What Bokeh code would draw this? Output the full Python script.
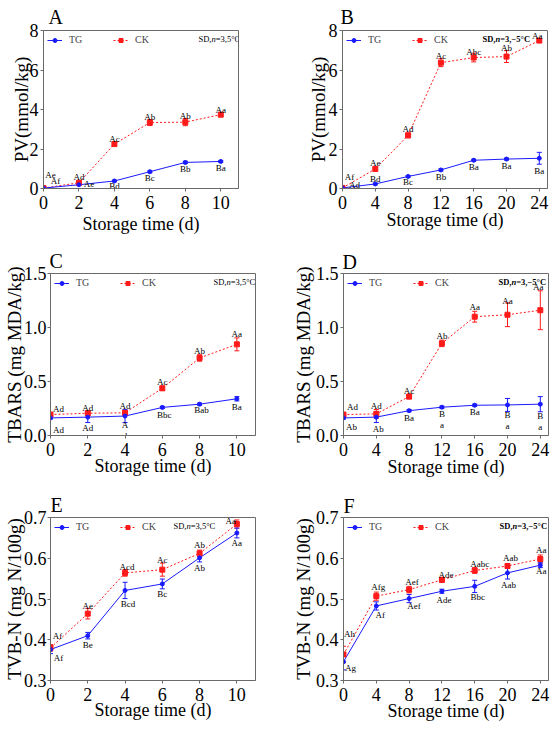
from bokeh.plotting import figure
from bokeh.layouts import column, row
from bokeh.models import (ColumnDataSource, Whisker, TeeHead, Label, Legend, LegendItem,
                          FixedTicker, Range1d, NumeralTickFormatter)
from bokeh.embed import file_html
from bokeh.resources import INLINE
from bokeh.core.properties import value

# ---------------- data ----------------
days_5 = [0, 2, 4, 6, 8, 10]
days_m5 = [0, 4, 8, 12, 16, 20, 24]

pv_5_tg = [0.02, 0.19, 0.38, 0.85, 1.32, 1.37]
pv_5_tg_sd = [0.02, 0.04, 0.04, 0.05, 0.06, 0.05]
pv_5_ck = [0.02, 0.29, 2.25, 3.34, 3.36, 3.74]
pv_5_ck_sd = [0.02, 0.08, 0.10, 0.15, 0.18, 0.10]
pv_5_tg_sig = ["Af", "Ae", "Bd", "Bc", "Bb", "Ba"]
pv_5_ck_sig = ["Ae", "Ad", "Ac", "Ab", "Ab", "Aa"]

pv_m5_tg = [0.03, 0.23, 0.61, 0.94, 1.43, 1.49, 1.53]
pv_m5_tg_sd = [0.02, 0.04, 0.05, 0.05, 0.05, 0.05, 0.30]
pv_m5_ck = [0.03, 0.99, 2.69, 6.37, 6.63, 6.68, 7.49]
pv_m5_ck_sd = [0.02, 0.08, 0.12, 0.20, 0.22, 0.30, 0.10]
pv_m5_tg_sig = ["Ad", "Bd", "Bc", "Bb", "Ba", "Ba", "Ba"]
pv_m5_ck_sig = ["Af", "Ae", "Ad", "Ac", "Abc", "Ab", "Aa"]

tbars_5_tg = [0.163, 0.170, 0.180, 0.260, 0.290, 0.340]
tbars_5_tg_sd = [0.01, 0.05, 0.06, 0.01, 0.01, 0.02]
tbars_5_ck = [0.194, 0.206, 0.210, 0.437, 0.718, 0.844]
tbars_5_ck_sd = [0.01, 0.02, 0.02, 0.02, 0.03, 0.06]
tbars_5_tg_sig = ["Ad", "Ad", "A\nd", "Bbc", "Bab", "Ba"]
tbars_5_ck_sig = ["Ad", "Ad", "Ad", "Ac", "Ab", "Aa"]

tbars_m5_tg = [0.163, 0.170, 0.230, 0.262, 0.280, 0.283, 0.290]
tbars_m5_tg_sd = [0.01, 0.05, 0.01, 0.01, 0.01, 0.06, 0.07]
tbars_m5_ck = [0.194, 0.200, 0.360, 0.853, 1.100, 1.118, 1.160]
tbars_m5_ck_sd = [0.01, 0.04, 0.02, 0.03, 0.05, 0.11, 0.18]
tbars_m5_tg_sig = ["Ab", "Ab", "Ba", "B\na", "Ba", "B\na", "B\na"]
tbars_m5_ck_sig = ["Ad", "Ad", "Ac", "Ab", "Aa", "Aa", "Aa"]

tvbn_5_tg = [0.376, 0.410, 0.521, 0.537, 0.601, 0.662]
tvbn_5_tg_sd = [0.010, 0.008, 0.020, 0.012, 0.010, 0.012]
tvbn_5_ck = [0.380, 0.464, 0.564, 0.572, 0.612, 0.684]
tvbn_5_ck_sd = [0.008, 0.013, 0.008, 0.016, 0.008, 0.010]
tvbn_5_tg_sig = ["Af", "Be", "Bcd", "Bc", "Ab", "Aa"]
tvbn_5_ck_sig = ["Af", "Ae", "Acd", "Ac", "Ab", "Aa"]

tvbn_m5_tg = [0.346, 0.483, 0.501, 0.519, 0.531, 0.564, 0.583]
tvbn_m5_tg_sd = [0.020, 0.010, 0.010, 0.005, 0.015, 0.015, 0.006]
tvbn_m5_ck = [0.364, 0.507, 0.523, 0.547, 0.570, 0.581, 0.598]
tvbn_m5_ck_sd = [0.020, 0.010, 0.008, 0.006, 0.007, 0.006, 0.010]
tvbn_m5_tg_sig = ["Ag", "Af", "Aef", "Ade", "Bbc", "Aab", "Aa"]
tvbn_m5_ck_sig = ["Ah", "Afg", "Aef", "Ade", "Aabc", "Aab", "Aa"]

ticks_5 = [0, 2, 4, 6, 8, 10]
ticks_m5 = [0, 4, 8, 12, 16, 20, 24]
pv_ticks = [0, 2, 4, 6, 8]
tbars_ticks = [0.0, 0.5, 1.0, 1.5]
tvbn_ticks = [0.3, 0.4, 0.5, 0.6, 0.7]

x_title = "Storage time (d)"
pv_title = "PV(mmol/kg)"
tbars_title = "TBARS (mg MDA/kg)"
tvbn_title = "TVB-N (mg N/100g)"
series_names = ["TG", "CK"]
sd_5 = ["SD,", "n", "=3,5°C"]
sd_m5 = ["SD,", "n", "=3,\u22125°C"]

# ---------------- style ----------------
FONT = "Liberation Serif"
BLUE = "#1a1aff"
RED = "#ff1a1a"
GRAY = "#6a6a6a"

W_REG = {"S": .556, "D": .722, ",": .25, "n": .5, "=": .564, "\u2212": .564, "°": .4, "C": .667}
W_BOLD = {"S": .556, "D": .722, ",": .25, "n": .556, "=": .570, "\u2212": .570, "°": .4, "C": .722}


def text_w(s, bold, size):
    tab = W_BOLD if bold else W_REG
    return sum(tab.get(c, .5) for c in s) * size


def make_panel(letter, days, tg, tg_sd, ck, ck_sd, tg_sig, ck_sig, sd_parts,
               width, height, bl, br, bt, bb, xend, yr, xticks, yticks, yfmt, ytitle,
               ylab_standoff, ytick_standoff, xlab_standoff, title_off, title_standoff,
               sd_start, sd_bold, tg_off, ck_off):
    p = figure(width=width, height=height, x_range=Range1d(0, xend), y_range=Range1d(*yr),
               output_backend="svg", toolbar_location=None,
               min_border_left=bl, min_border_right=br, min_border_top=bt, min_border_bottom=bb)
    p.grid.visible = False
    p.outline_line_color = GRAY
    p.outline_line_width = 1
    p.background_fill_color = "white"
    p.border_fill_color = "white"

    fh = height - bt - bb

    p.title.text = letter
    p.title.align = "left"
    p.title.offset = title_off
    p.title.standoff = title_standoff
    p.title.text_font = FONT
    p.title.text_font_size = "20px"
    p.title.text_font_style = "normal"
    p.title.text_color = "black"

    for ax in (p.xaxis[0], p.yaxis[0]):
        ax.axis_line_color = GRAY
        ax.major_tick_line_color = GRAY
        ax.major_tick_out = 3
        ax.major_tick_in = 0
        ax.minor_tick_line_color = None
        ax.major_label_text_font = FONT
        ax.major_label_text_font_size = "18px"
        ax.major_label_text_color = "black"
        ax.axis_label_text_font = FONT
        ax.axis_label_text_font_style = "normal"
        ax.axis_label_text_color = "black"
    p.xaxis[0].ticker = FixedTicker(ticks=xticks)
    p.yaxis[0].ticker = FixedTicker(ticks=yticks)
    p.yaxis[0].formatter = NumeralTickFormatter(format=yfmt)
    p.xaxis[0].axis_label = x_title
    p.xaxis[0].axis_label_text_font_size = "18px"
    p.xaxis[0].major_label_standoff = 4
    p.xaxis[0].axis_label_standoff = xlab_standoff
    p.yaxis[0].axis_label = ytitle
    p.yaxis[0].axis_label_text_font_size = "19px"
    p.yaxis[0].major_label_standoff = ytick_standoff
    p.yaxis[0].axis_label_standoff = ylab_standoff

    tg_src = ColumnDataSource(dict(x=days, y=tg, upper=[a + b for a, b in zip(tg, tg_sd)],
                                   lower=[a - b for a, b in zip(tg, tg_sd)], sig=tg_sig,
                                   dx=[o[0] for o in tg_off], dy=[o[1] for o in tg_off]))
    ck_src = ColumnDataSource(dict(x=days, y=ck, upper=[a + b for a, b in zip(ck, ck_sd)],
                                   lower=[a - b for a, b in zip(ck, ck_sd)], sig=ck_sig,
                                   dx=[o[0] for o in ck_off], dy=[o[1] for o in ck_off]))

    ck_line = p.line("x", "y", source=ck_src, line_color=RED, line_width=1, line_dash="2 2")
    tg_line = p.line("x", "y", source=tg_src, line_color=BLUE, line_width=1)
    for src, col in ((ck_src, RED), (tg_src, BLUE)):
        p.add_layout(Whisker(source=src, base="x", upper="upper", lower="lower",
                             line_color=col, line_width=1,
                             upper_head=TeeHead(size=5, line_color=col, line_width=1),
                             lower_head=TeeHead(size=5, line_color=col, line_width=1)))
    ck_pts = p.scatter("x", "y", source=ck_src, marker="square", size=5,
                       fill_color=RED, line_color=RED)
    tg_pts = p.scatter("x", "y", source=tg_src, marker="circle", size=4,
                       fill_color=BLUE, line_color=BLUE)

    for src in (ck_src, tg_src):
        p.text("x", "y", text="sig", source=src, x_offset="dx", y_offset="dy",
               text_font=value(FONT), text_font_size=value("9px"), text_color="black",
               text_align="center", text_baseline="middle", text_line_height=1.1)

    legend = Legend(items=[LegendItem(label=series_names[0], renderers=[tg_line, tg_pts]),
                           LegendItem(label=series_names[1], renderers=[ck_line, ck_pts])],
                    orientation="horizontal", location="top_left",
                    background_fill_alpha=0, border_line_alpha=0,
                    padding=1, margin=3, spacing=24, glyph_width=15, glyph_height=10,
                    label_height=10, label_standoff=7,
                    label_text_font=FONT, label_text_font_size="10px")
    p.add_layout(legend)

    # SD annotation (n in italics)
    size = 8.5
    xcur = sd_start
    styles = ["bold" if sd_bold else "normal",
              "bold italic" if sd_bold else "italic",
              "bold" if sd_bold else "normal"]
    for part, st in zip(sd_parts, styles):
        p.add_layout(Label(x=xcur, y=fh - 8, x_units="screen", y_units="screen", text=part,
                           text_font=FONT, text_font_size=f"{size}px", text_font_style=st,
                           text_baseline="middle", text_align="left", text_color="black"))
        xcur += text_w(part, sd_bold, size)
    return p


off_a_tg = [(12, -7), (10, -1), (0, 5), (0, 6), (0, 7), (0, 7)]
off_a_ck = [(7, -13), (0, -6), (0, -5), (0, -6), (0, -6), (0, -5)]
off_b_tg = [(12, -3), (0, -5), (0, 6), (0, 7), (0, 7), (0, 7), (0, 13)]
off_b_ck = [(7, -11), (0, -6), (0, -6), (0, -7), (0, -6), (0, -9), (-2, -5)]
off_c_tg = [(8, 12), (0, 11), (0, 14), (2, 8), (2, 6), (0, 8)]
off_c_ck = [(8, -6), (0, -5), (0, -7), (0, -6), (0, -7), (0, -10)]
off_d_tg = [(8, 9), (2, 12), (0, 7), (0, 12), (0, 7), (0, 16), (0, 17)]
off_d_ck = [(9, -8), (0, -8), (0, -6), (0, -7), (0, -10), (0, -14), (-2, -23)]
off_e_tg = [(8, 8), (0, 9), (3, 14), (0, 10), (0, 10), (0, 10)]
off_e_ck = [(7, -12), (0, -8), (2, -6), (0, -10), (0, -8), (-6, -3)]
off_f_tg = [(7, 6), (4, 9), (5, 7), (2, 9), (3, 11), (1, 12), (1, 6)]
off_f_ck = [(6, -20), (2, -9), (3, -8), (4, -5), (5, -6), (3, -8), (1, -9)]

pA = make_panel("A", days_5, pv_5_tg, pv_5_tg_sd, pv_5_ck, pv_5_ck_sd, pv_5_tg_sig, pv_5_ck_sig,
                sd_5, 275, 240, 43, 37, 30, 52, 11, (0, 8), ticks_5, pv_ticks, "0", pv_title,
                -5, 2, 2, 5, 5, 155, False, off_a_tg, off_a_ck)
pB = make_panel("B", days_m5, pv_m5_tg, pv_m5_tg_sd, pv_m5_ck, pv_m5_ck_sd, pv_m5_tg_sig,
                pv_m5_ck_sig, sd_m5, 275, 240, 67, 3, 30, 52, 25, (0, 8), ticks_m5, pv_ticks,
                "0", pv_title, -3, 2, -2, -2, 5, 140, True, off_b_tg, off_b_ck)
pC = make_panel("C", days_5, tbars_5_tg, tbars_5_tg_sd, tbars_5_ck, tbars_5_ck_sd,
                tbars_5_tg_sig, tbars_5_ck_sig, sd_5, 275, 245, 49, 20, 33, 50, 11, (0, 1.5),
                ticks_5, tbars_ticks, "0.0", tbars_title, -4, 1, -3, -1, 4, 163, False,
                off_c_tg, off_c_ck)
pD = make_panel("D", days_m5, tbars_m5_tg, tbars_m5_tg_sd, tbars_m5_ck, tbars_m5_ck_sd,
                tbars_m5_tg_sig, tbars_m5_ck_sig, sd_m5, 275, 245, 68, 2, 33, 50, 25, (0, 1.5),
                ticks_m5, tbars_ticks, "0.0", tbars_title, -1, 2, -2, -1, 2, 155, True,
                off_d_tg, off_d_ck)
pE = make_panel("E", days_5, tvbn_5_tg, tvbn_5_tg_sd, tvbn_5_ck, tvbn_5_ck_sd,
                tvbn_5_tg_sig, tvbn_5_ck_sig, sd_5, 275, 246, 49, 20, 32, 51, 11, (0.3, 0.7),
                ticks_5, tvbn_ticks, "0.0", tvbn_title, -4, 1, -4, 0, 3, 123, False,
                off_e_tg, off_e_ck)
pF = make_panel("F", days_m5, tvbn_m5_tg, tvbn_m5_tg_sd, tvbn_m5_ck, tvbn_m5_ck_sd,
                tvbn_m5_tg_sig, tvbn_m5_ck_sig, sd_m5, 275, 246, 68, 2, 32, 51, 25, (0.3, 0.7),
                ticks_m5, tvbn_ticks, "0.0", tvbn_title, -1, 2, -3, 0, 2, 156, True,
                off_f_tg, off_f_ck)

layout = column(row(pA, pB, spacing=0), row(pC, pD, spacing=0), row(pE, pF, spacing=0),
                spacing=0)

open("out.html", "w").write(file_html(layout, INLINE))
